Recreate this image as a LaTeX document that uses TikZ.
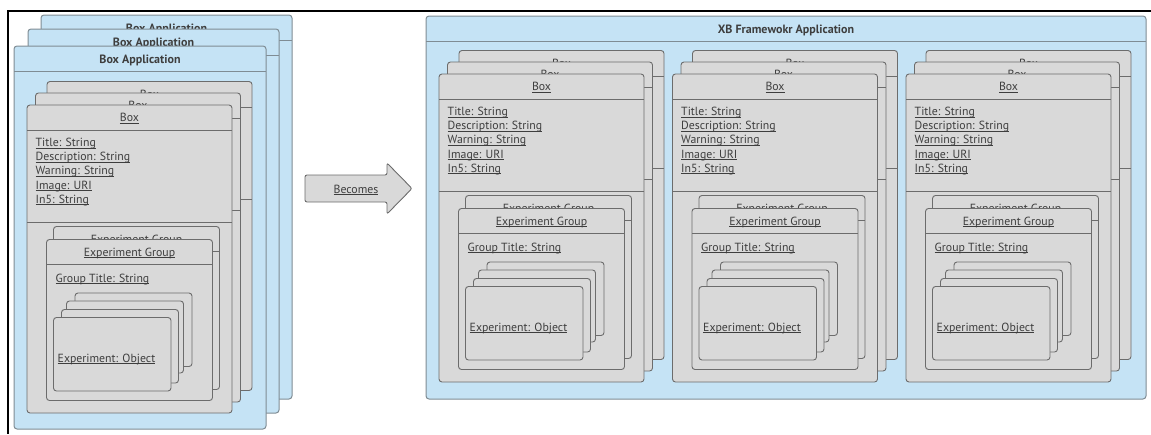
\documentclass[tikz,border=0pt]{standalone}
\usepackage{fontspec}
\setmainfont{PT Sans}
\usetikzlibrary{calc}

\definecolor{appfill}{HTML}{C5E3F5}
\definecolor{appline}{HTML}{7F8C94}
\definecolor{cardfill}{HTML}{D9D9D9}
\definecolor{cardline}{HTML}{6C6C6C}
\definecolor{ink}{HTML}{3E3E3E}

% underline at a fixed depth, running through descenders
\newcommand{\uln}[1]{\setbox0\hbox{#1}\rlap{\box0}\setbox0\hbox{#1}\rule[-1.7pt]{\wd0}{0.65pt}}

\tikzset{
  app/.style={draw=appline, fill=appfill, line width=1pt, rounded corners=3pt,
    inner sep=0pt, outer sep=0pt, anchor=north west},
  card/.style={draw=cardline, fill=cardfill, line width=0.9pt, rounded corners=3pt,
    inner sep=0pt, outer sep=0pt, anchor=north west},
  cardrule/.style={draw=cardline, line width=0.9pt},
  apprule/.style={draw=appline, line width=1pt},
  apptitle/.style={text=ink, inner sep=0pt, anchor=base, font=\fontsize{12}{14}\selectfont\bfseries},
  cardtitle/.style={text=ink, inner sep=0pt, anchor=base, font=\fontsize{11.8}{14}\selectfont},
  field/.style={text=ink, inner sep=0pt, anchor=base west, font=\fontsize{11.8}{14}\selectfont},
  framerule/.style={draw=black, line width=1.7pt},
}

% \card{name}{x}{y}{width}{height}: a grey card, top-left corner at (x,y)
\newcommand{\card}[5]{\node[card, minimum width=#4pt, minimum height=#5pt] (#1) at (#2,#3) {};}
% \cardhead{name}{depth}: a horizontal rule across a card, depth below its top
\newcommand{\cardhead}[2]{\draw[cardrule] ($(#1.north west)+(0,#2)$) -- ($(#1.north east)+(0,#2)$);}

% A stack of three "Box" cards with their groups and experiments,
% placed with the front card's top-left corner at (#2,#3)
\newcommand{\boxstack}[3]{%
\begin{scope}[shift={(#2,#3)}]
  % Box cards, back to front
  \card{#1b3}{20}{-23.5}{205}{309}
  \cardhead{#1b3}{25.5}\cardhead{#1b3}{117.5}
  \node[cardtitle] (#1b3t) at ($(#1b3.north)+(0,16.5)$) {\uln{Box}};
  \card{#1b2}{8.5}{-12}{205}{309}
  \cardhead{#1b2}{25.5}\cardhead{#1b2}{117.5}
  \node[cardtitle] (#1b2t) at ($(#1b2.north)+(0,16.5)$) {\uln{Box}};
  \card{#1b1}{0}{0}{205}{308}
  \cardhead{#1b1}{25.5}\cardhead{#1b1}{117.5}
  \node[cardtitle] (#1b1t) at ($(#1b1.north)+(0,16.5)$) {\uln{Box}};
  % fields of the front card
  \foreach \f [count=\i] in {Title: String, Description: String, Warning: String, Image: URI, In5: String}
    \node[field] (#1f\i) at (8.5,{41.5+14.2*(\i-1)}) {\uln{\f}};
  % Experiment Group cards
  \card{#1g2}{26.5}{121.5}{166}{163}
  \cardhead{#1g2}{25}
  \node[cardtitle] (#1g2t) at ($(#1g2.north)+(0,16.5)$) {\uln{Experiment Group}};
  \card{#1g1}{19.5}{134.5}{166}{161}
  \cardhead{#1g1}{25}
  \node[cardtitle] (#1g1t) at ($(#1g1.north)+(0,16.5)$) {\uln{Experiment Group}};
  \node[field] (#1gf) at (28.5,177) {\uln{Group Title: String}};
  % Experiment cards
  \card{#1e4}{48}{188}{117}{73.5}
  \card{#1e3}{39.5}{196}{117}{72}
  \card{#1e2}{34.5}{204.5}{117}{73.5}
  \card{#1e1}{26.5}{212.5}{117.5}{73.5}
  \node[field] (#1ef) at (30.5,257) {\uln{Experiment: Object}};
\end{scope}}

\begin{document}
\begin{tikzpicture}[x=1pt, y=-1pt]
\useasboundingbox (0,0) rectangle (1151,434);

% outer frame
\draw[framerule] (1151,11) -- (8,11) -- (8,434);

% three stacked "Box Application" panels
\node[app, minimum width=251pt, minimum height=384pt] (a3) at (41,15) {};
\draw[apprule] ($(a3.north west)+(0,25)$) -- ($(a3.north east)+(0,25)$);
\node[apptitle] (a3t) at ($(a3.north)+(0,17)$) {Box Application};
\node[app, minimum width=251pt, minimum height=384pt] (a2) at (28,29) {};
\draw[apprule] ($(a2.north west)+(0,26)$) -- ($(a2.north east)+(0,26)$);
\node[apptitle] (a2t) at ($(a2.north)+(0,17.5)$) {Box Application};
\node[app, minimum width=252pt, minimum height=383pt] (a1) at (14,46) {};
\draw[apprule] ($(a1.north west)+(0,25)$) -- ($(a1.north east)+(0,25)$);
\node[apptitle] (a1t) at ($(a1.north)+(0,17)$) {Box Application};

\boxstack{l}{27}{105}

% the "Becomes" arrow
\draw[draw=cardline, fill=cardfill, line width=0.9pt, rounded corners=2pt]
  (305,175) -- (387,175) -- (387,163) -- (412,188.5) -- (387,214) -- (387,202) -- (305,202) -- cycle;
\node[cardtitle] (becomes) at (356,193) {\uln{Becomes}};

% the framework application panel
\node[app, minimum width=720pt, minimum height=383pt] (xb) at (426,16) {};
\draw[apprule] ($(xb.north west)+(0,25)$) -- ($(xb.north east)+(0,25)$);
\node[apptitle] (xbt) at ($(xb.north)+(0,17)$) {XB Framewokr Application};

\boxstack{r}{439}{74}
\boxstack{s}{672.5}{74}
\boxstack{t}{906}{74}

\end{tikzpicture}
\end{document}
